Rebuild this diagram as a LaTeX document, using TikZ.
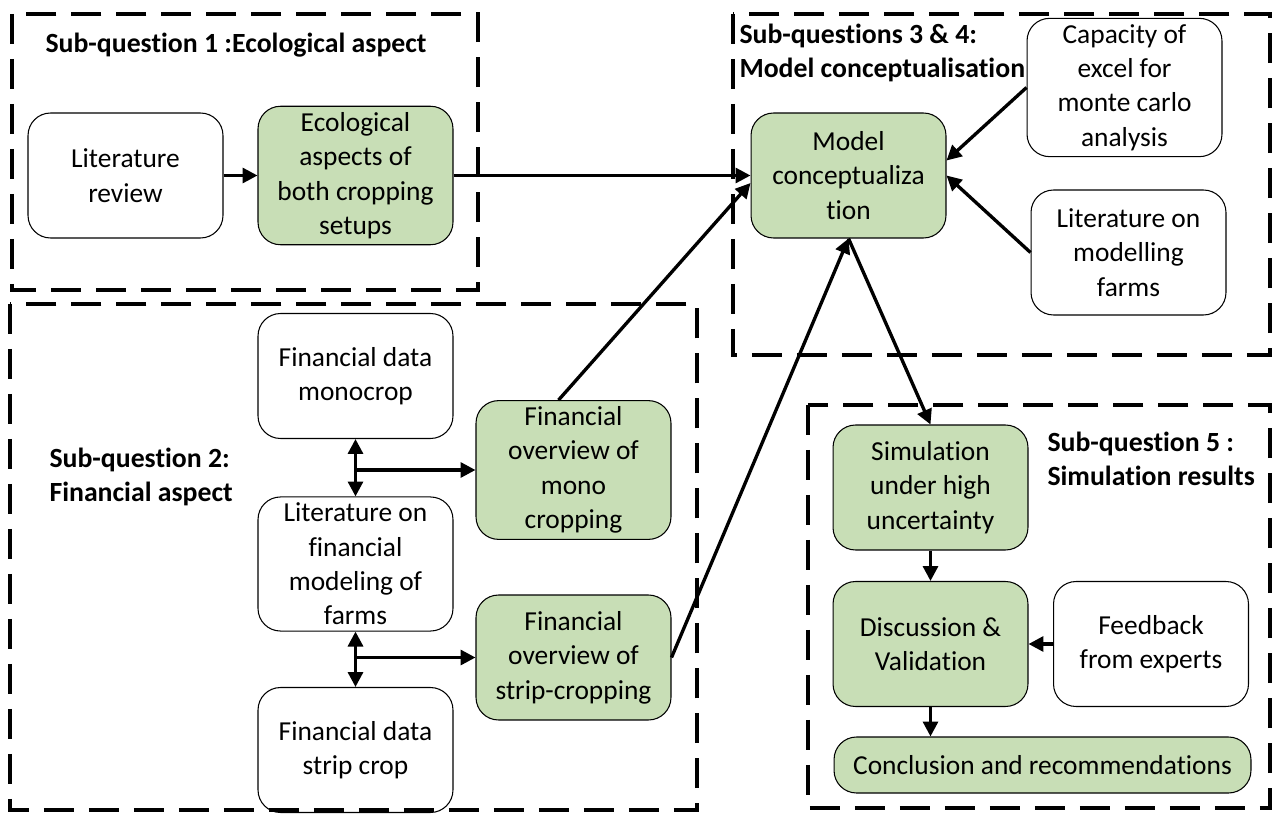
\documentclass[tikz,border=0pt]{standalone}
\usepackage{fontspec}
\setmainfont{Carlito}[Ligatures=CommonOff]
\usepackage{xcolor}
\usepackage{tikz}
\usetikzlibrary{positioning,arrows.meta}

\definecolor{stepgreen}{RGB}{200,222,182}

\begin{document}
\begin{tikzpicture}[x=0.02cm,y=-0.02cm,->,>={Triangle[length=8.5pt,width=8.5pt]},line width=1.9pt]
  \tikzstyle{task}=[rectangle,rounded corners=0.45cm,draw,line width=0.6pt,minimum width=3.9cm,minimum height=2.5cm,align=center,font=\fontsize{15.6}{19.6}\selectfont]
  \tikzstyle{result}=[task,fill=stepgreen]
  \tikzstyle{group}=[-,dash pattern=on 0.6cm off 0.3cm,line width=2pt]
  \tikzstyle{grouplabel}=[anchor=north west,align=left,font=\fontsize{15.8}{19.6}\selectfont\bfseries]

  \useasboundingbox (0,0) rectangle (1274,814);

  % dashed groups
  \draw[group] (12,14) rectangle (478,290);
  \draw[group] (10,304) rectangle (697,810);
  \draw[group] (733,14) rectangle (1270,355);
  \draw[group] (808,405) rectangle (1270,808);

  \node[grouplabel] (sq1) at (38,26) {Sub-question 1 :Ecological aspect};
  \node[grouplabel] (sq2) at (42,440) {Sub-question 2:\\Financial aspect};
  \node[grouplabel] (sq34) at (732,16) {Sub-questions 3 \& 4:\\Model conceptualisation};
  \node[grouplabel] (sq5) at (1040,424) {Sub-question 5 :\\Simulation results};

  % sub-question 1
  \node[task] (litrev) at (125.5,175.5) {Literature\\review};
  \node[result] (eco) at (355.5,175.5) {Ecological\\aspects of\\both cropping\\setups};

  % sub-questions 3 and 4
  \node[result] (model) at (848.5,175.5) {Model\\conceptualiza\\tion};
  \node[task] (excel) at (1124.5,87.5) {Capacity of\\excel for\\monte carlo\\analysis};
  \node[task] (litfarm) at (1128.5,252.5) {Literature on\\modelling\\farms};

  % sub-question 2
  \node[task] (monodata) at (355.5,376) {Financial data\\monocrop};
  \node[result] (monoview) at (573.5,470) {Financial\\overview of\\mono\\cropping};
  \node[task] (litfin) at (355.5,564) {Literature on\\financial\\modeling of\\farms};
  \node[result] (stripview) at (573.5,657.5) {Financial\\overview of\\strip-cropping};
  \node[task] (stripdata) at (355.5,750) {Financial data\\strip crop};

  % sub-question 5
  \node[result] (sim) at (930.5,487.5) {Simulation\\under high\\uncertainty};
  \node[result] (disc) at (930.5,644) {Discussion \&\\Validation};
  \node[task] (feed) at (1151,644) {Feedback\\from experts};
  \node[result,minimum width=8.34cm,minimum height=1.12cm] (concl) at (1042.5,765) {Conclusion and recommendations};

  \coordinate (j1) at (355,470);
  \coordinate (j2) at (355,657.5);

  \draw (litrev) -- (eco);
  \draw (eco) -- (model.west);
  \draw ([xshift=-0.3cm]monoview.north) -- ([yshift=-0.15cm]model.west);
  \draw (stripview.east) -- (model.south);
  \draw (excel.west) -- ([yshift=0.3cm]model.east);
  \draw (litfarm.west) -- (model.east);
  \draw (model.south) -- (sim.north);

  \draw[<->] (monodata) -- (litfin);
  \draw (j1) -- (monoview.west);
  \draw[<->] (litfin) -- (stripdata);
  \draw (j2) -- (stripview.west);

  \draw (sim) -- (disc);
  \draw (feed) -- (disc);
  \draw (disc.south) -- (disc.south |- concl.north);
\end{tikzpicture}
\end{document}
